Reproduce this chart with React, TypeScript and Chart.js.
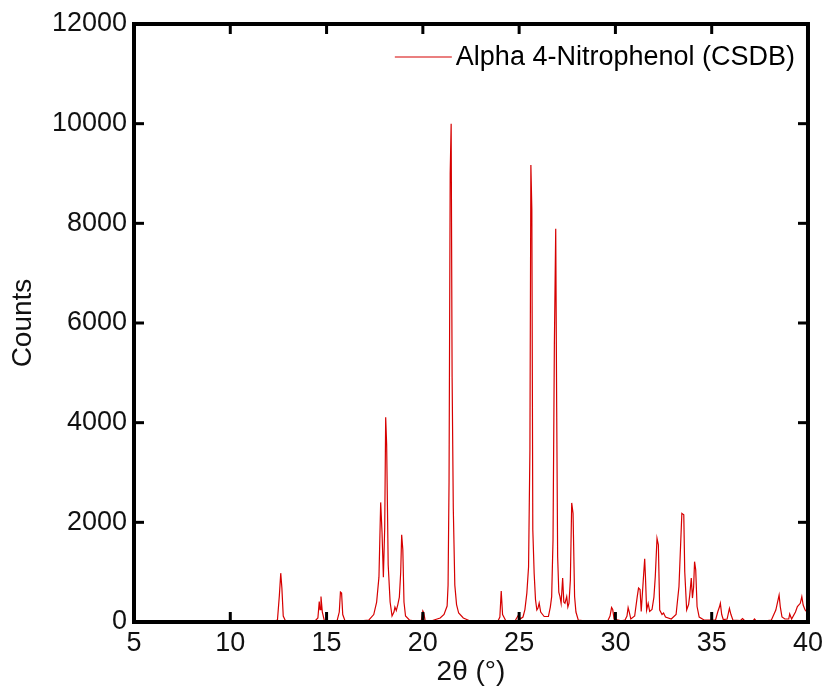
import React, { useEffect, useRef } from "react";
import { Chart, registerables } from "chart.js";

Chart.register(...registerables);

const seriesLabel = "Alpha 4-Nitrophenol (CSDB)";
const xTitle = "2θ (°)";
const yTitle = "Counts";
const xTicks = [5, 10, 15, 20, 25, 30, 35, 40];
const yTicks = [0, 2000, 4000, 6000, 8000, 10000, 12000];

// [2θ (°), counts]
const patternLow: [number, number][] = [
  [11.3, 5], [12.2, 15], [12.45, 40], [12.55, 540], [12.62, 980], [12.68, 680], [12.75, 120], [12.85, 35], [13.2, 15],
  [14.4, 20], [14.55, 80], [14.62, 410], [14.66, 250], [14.71, 510], [14.78, 200], [14.88, 35], [15.2, 15],
  [15.55, 30], [15.66, 200], [15.72, 600], [15.78, 580], [15.84, 150], [15.95, 30], [16.5, 15],
  [17.2, 40], [17.45, 150], [17.6, 400], [17.72, 900], [17.81, 2400], [17.88, 1800], [17.95, 900], [18.02, 1900],
  [18.07, 4110], [18.12, 3560], [18.2, 1150], [18.3, 400], [18.4, 120], [18.5, 200], [18.55, 300], [18.62, 230],
  [18.7, 350], [18.78, 500], [18.85, 1000], [18.9, 1750], [18.96, 1450], [19.02, 400], [19.1, 120], [19.3, 40], [19.6, 20],
  [19.92, 30], [20.0, 220], [20.05, 180], [20.12, 30], [20.5, 30],
];

const patternMid: [number, number][] = [
  [20.9, 80], [21.1, 150], [21.26, 320], [21.31, 740], [21.36, 2800], [21.42, 9000], [21.47, 10000], [21.52, 4900],
  [21.58, 2300], [21.66, 740], [21.75, 350], [21.86, 180], [22.1, 80], [22.4, 30], [23.0, 20],
  [23.9, 20], [24.0, 100], [24.07, 620], [24.14, 150], [24.3, 30], [24.8, 30], [24.98, 150], [25.05, 60],
  [25.2, 100], [25.3, 250], [25.4, 580], [25.49, 1110], [25.56, 3460], [25.61, 9170], [25.66, 8280], [25.71, 1850],
  [25.78, 980], [25.85, 450], [25.92, 240], [25.98, 280], [26.04, 380], [26.12, 200], [26.3, 110], [26.52, 110],
  [26.62, 300], [26.69, 510], [26.76, 1650], [26.83, 5570], [26.9, 7890], [26.95, 4300], [27.0, 1310], [27.06, 600],
  [27.12, 510], [27.18, 375], [27.26, 880], [27.32, 400], [27.38, 375], [27.47, 510], [27.53, 300], [27.59, 380],
  [27.66, 840], [27.73, 2390], [27.8, 2180], [27.88, 510], [27.95, 200], [28.07, 40], [28.5, 20],
];

const patternHigh: [number, number][] = [
  [29.6, 20], [29.72, 120], [29.8, 290], [29.86, 250], [29.93, 60], [30.3, 25],
  [30.5, 40], [30.6, 120], [30.66, 290], [30.72, 200], [30.8, 60], [31.0, 120], [31.13, 500], [31.2, 680],
  [31.28, 650], [31.34, 210], [31.44, 800], [31.52, 1270], [31.56, 910], [31.62, 240], [31.7, 375], [31.78, 211],
  [31.9, 250], [32.0, 500], [32.07, 910], [32.16, 1680], [32.23, 1550], [32.3, 240], [32.42, 150], [32.5, 180],
  [32.6, 100], [32.9, 60],
  [33.15, 150], [33.3, 710], [33.45, 2180], [33.55, 2150], [33.6, 1010], [33.7, 240], [33.8, 350], [33.86, 540],
  [33.94, 880], [34.0, 480], [34.06, 700], [34.11, 1210], [34.17, 1045], [34.24, 310], [34.35, 100], [34.6, 40],
  [35.2, 40], [35.32, 210], [35.4, 300], [35.45, 375], [35.52, 150], [35.6, 50], [35.8, 60], [35.92, 275],
  [36.0, 150], [36.1, 40], [36.5, 30], [36.6, 70], [36.7, 30], [37.15, 25], [37.22, 60], [37.3, 25], [37.8, 25],
  [38.1, 40], [38.33, 240], [38.5, 540], [38.56, 310], [38.65, 100], [38.8, 60], [39.0, 60], [39.05, 160],
  [39.15, 60], [39.35, 200], [39.45, 310], [39.6, 375], [39.68, 510], [39.75, 340], [39.85, 240], [39.95, 200],
];

const lineColor = "rgb(214, 0, 0)";
const fontFamily = "'Liberation Sans', Arial, Helvetica, sans-serif";

const framePlugin = {
  id: "matlabFrame",
  afterDatasetsDraw(chart: any) {
    const { ctx, chartArea: a, scales } = chart;
    ctx.save();
    ctx.strokeStyle = "#000";
    ctx.lineCap = "butt";
    ctx.lineWidth = 3;
    const tl = 10;
    const seg = (x1: number, y1: number, x2: number, y2: number) => {
      ctx.beginPath();
      ctx.moveTo(x1, y1);
      ctx.lineTo(x2, y2);
      ctx.stroke();
    };
    xTicks.forEach((v) => {
      const px = scales.x.getPixelForValue(v);
      seg(px, a.bottom, px, a.bottom - tl);
      seg(px, a.top, px, a.top + tl);
    });
    yTicks.forEach((v) => {
      const py = scales.y.getPixelForValue(v);
      seg(a.left, py, a.left + tl, py);
      seg(a.right, py, a.right - tl, py);
    });
    ctx.lineWidth = 4;
    ctx.strokeRect(a.left, a.top, a.right - a.left, a.bottom - a.top);

    // legend (no box, MATLAB style)
    ctx.font = `27px ${fontFamily}`;
    ctx.textBaseline = "middle";
    ctx.textAlign = "right";
    ctx.fillStyle = "#000";
    const textRight = a.right - 13;
    const ly = a.top + 34;
    ctx.fillText(seriesLabel, textRight, ly);
    const w = ctx.measureText(seriesLabel).width;
    const textLeft = textRight - w;
    ctx.strokeStyle = lineColor;
    ctx.lineWidth = 1.2;
    seg(textLeft - 61, ly - 1, textLeft - 4, ly - 1);
    ctx.restore();
  },
};

export default function App() {
  const canvasRef = useRef<HTMLCanvasElement | null>(null);

  useEffect(() => {
    document.body.style.margin = "0";
    const canvas = canvasRef.current;
    if (!canvas) return;
    const data = [...patternLow, ...patternMid, ...patternHigh].map(([x, y]) => ({ x, y }));
    const chart = new Chart(canvas, {
      type: "line",
      data: {
        datasets: [
          {
            label: seriesLabel,
            data,
            borderColor: lineColor,
            backgroundColor: lineColor,
            borderWidth: 1.2,
            pointRadius: 0,
            tension: 0,
            fill: false,
          },
        ],
      },
      options: {
        responsive: false,
        animation: false,
        events: [],
        layout: { padding: { top: 24, right: 19, left: 0, bottom: 0 } },
        plugins: {
          legend: { display: false },
          tooltip: { enabled: false },
        },
        scales: {
          x: {
            type: "linear",
            min: 5,
            max: 40,
            afterFit: (scale: any) => {
              scale.height = 74;
            },
            afterBuildTicks: (scale: any) => {
              scale.ticks = xTicks.map((v) => ({ value: v }));
            },
            grid: { display: false, drawTicks: false },
            border: { display: false },
            ticks: {
              padding: 5,
              color: "#111",
              font: { family: fontFamily, size: 27 },
              maxRotation: 0,
              autoSkip: false,
            },
            title: {
              display: true,
              text: xTitle,
              color: "#111",
              font: { family: fontFamily, size: 28 },
              padding: { top: 0, bottom: 7 },
            },
          },
          y: {
            type: "linear",
            min: 0,
            max: 12000,
            afterFit: (scale: any) => {
              scale.width = 134;
            },
            afterBuildTicks: (scale: any) => {
              scale.ticks = yTicks.map((v) => ({ value: v }));
            },
            grid: { display: false, drawTicks: false },
            border: { display: false },
            ticks: {
              padding: 7,
              color: "#111",
              font: { family: fontFamily, size: 27 },
              autoSkip: false,
              callback: (v: any) => String(v),
            },
            title: {
              display: true,
              text: yTitle,
              color: "#111",
              font: { family: fontFamily, size: 28 },
              padding: { top: 6, bottom: 0 },
            },
          },
        },
      },
      plugins: [framePlugin],
    });
    return () => chart.destroy();
  }, []);

  return (
    <div style={{ position: "fixed", left: 0, top: 0, width: 828, height: 696, background: "#fff" }}>
      <canvas ref={canvasRef} width={828} height={696} />
    </div>
  );
}
